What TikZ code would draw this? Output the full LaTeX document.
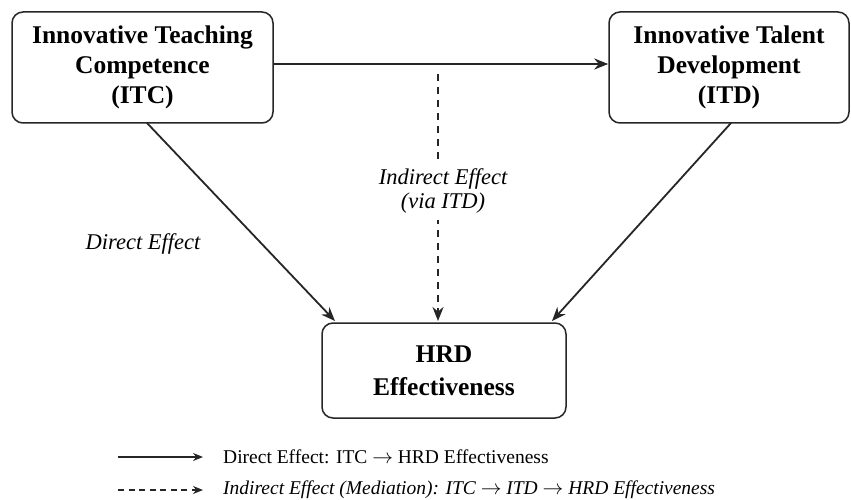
\documentclass[tikz,border=0pt]{standalone}
\usepackage{fontspec}
\setmainfont{Liberation Serif}
\usetikzlibrary{arrows.meta}
\newcommand{\lowered}[1]{\raisebox{-5pt}{\begin{tabular}{@{}c@{}}#1\end{tabular}}}
\begin{document}
\begin{tikzpicture}[x=1pt,y=-1pt,
  box/.style={draw=black!85, line width=1.5pt, rounded corners=11pt, align=center,
    font=\fontsize{25.5}{30}\selectfont\bfseries, inner sep=0pt},
  conn/.style={line width=1.8pt, draw=black!85, -{Stealth[length=14pt,width=11pt]}},
  dconn/.style={conn, dash pattern=on 7pt off 6pt},
  lbl/.style={font=\fontsize{22.5}{24}\selectfont\itshape, align=center},
  leg/.style={font=\fontsize{19.5}{22}\selectfont, anchor=west, inner sep=2pt}]
\fill[white] (0,0) rectangle (851,500);
\useasboundingbox (0,0) rectangle (851,500);
\node[box, minimum width=261pt, minimum height=111pt] (itc) at (142.5,67.5)
  {\lowered{Innovative Teaching\\Competence\\(ITC)}};
\node[box, minimum width=240pt, minimum height=111pt] (itd) at (729,67.5)
  {\lowered{Innovative Talent\\Development\\(ITD)}};
\node[box, minimum width=244pt, minimum height=95pt, font=\fontsize{25.5}{33}\selectfont\bfseries] (hrd) at (444,370.5)
  {HRD\\Effectiveness};
\draw[conn] (itc.east |- 0,64) -- (itd.west |- 0,64);
\draw[conn] (147,123) -- (335,321);
\draw[conn] (731,123) -- (552,321);
\coordinate (dtop) at (438,74);
\coordinate (dbot) at (438,321);
\draw[dconn] (dtop) -- (dbot);
\node[lbl, fill=white, inner xsep=3pt, inner ysep=7pt] (ind) at (443,191) {Indirect Effect\\(via ITD)};
\node[lbl] (dir) at (143,244) {Direct Effect};
\coordinate (l1a) at (118,457);
\coordinate (l1b) at (203,457);
\coordinate (l2a) at (118,490);
\coordinate (l2b) at (203,490);
\draw[conn, line width=1.5pt, -{Stealth[length=10pt,width=8pt]}] (l1a) -- (l1b);
\draw[conn, line width=1.5pt, dash pattern=on 6pt off 4.5pt, -{Stealth[length=10pt,width=8pt]}] (l2a) -- (l2b);
\node[leg] (t1) at (221,457) {Direct Effect: ITC $\rightarrow$ HRD Effectiveness};
\node[leg] (t2) at (221,490) {\textit{Indirect Effect (Mediation): ITC $\rightarrow$ ITD $\rightarrow$ HRD Effectiveness}};
\end{tikzpicture}
\end{document}
